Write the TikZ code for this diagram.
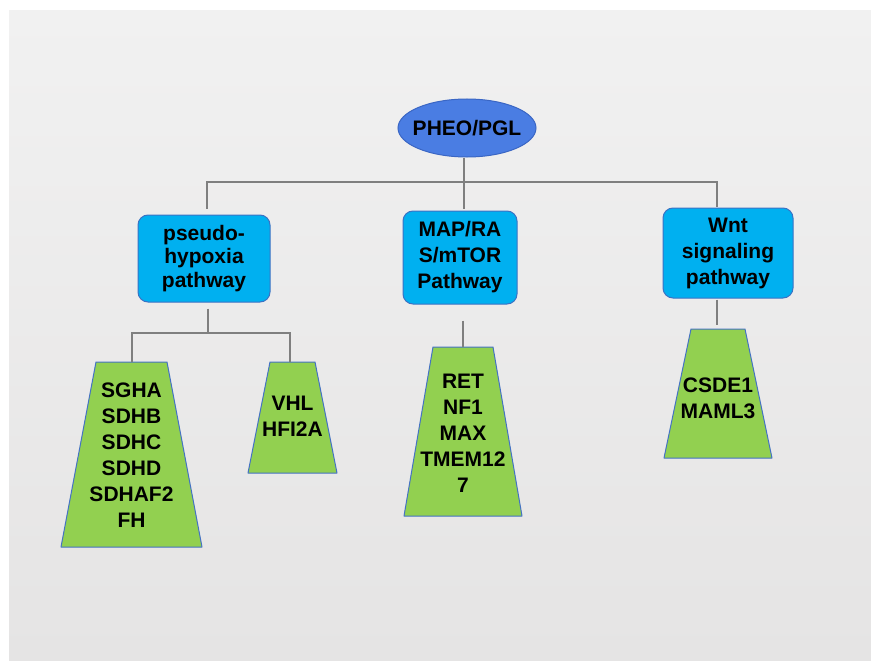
\documentclass[tikz,border=0pt]{standalone}
\usepackage{fontspec}
\setmainfont{Liberation Sans}
\usepackage{tikz}
\usetikzlibrary{calc,shapes,positioning}

\definecolor{panelTop}{HTML}{F1F1F1}
\definecolor{panelBot}{HTML}{E5E4E4}
\definecolor{rootFill}{HTML}{4A7DE3}
\definecolor{rootLine}{HTML}{3A66C4}
\definecolor{pathFill}{HTML}{00B0F0}
\definecolor{pathLine}{HTML}{3B72C4}
\definecolor{geneFill}{HTML}{92D050}
\definecolor{geneLine}{HTML}{4472C4}
\definecolor{treeLine}{HTML}{7F7F7F}

\begin{document}
\begin{tikzpicture}[x=1pt,y=-1pt]
    \tikzstyle{rnode} = [draw=rootLine, fill=rootFill, ellipse, line width=1pt, inner sep=0pt,
                         minimum width=138pt, minimum height=58pt, font=\fontsize{21}{26}\selectfont\bfseries]
    \tikzstyle{pnode} = [draw=pathLine, fill=pathFill, rectangle, rounded corners=10pt, line width=1pt,
                         inner sep=0pt, align=center, font=\fontsize{21}{26}\selectfont\bfseries]
    \tikzstyle{trap}  = [draw=geneLine, fill=geneFill, line width=1pt, line join=round]
    \tikzstyle{gnode} = [inner sep=0pt, align=center, font=\fontsize{21}{26}\selectfont\bfseries]
    \tikzstyle{conn}  = [draw=treeLine, line width=1.1pt]

    \useasboundingbox (0,0) rectangle (871,661);
    \fill[white] (0,0) rectangle (871,661);
    \shade[top color=panelTop, bottom color=panelBot] (9,11) rectangle (871,661);

    \node[rnode] (root) at (467,128) {\makebox[0pt]{PHEO/PGL}};

    \node[pnode, minimum width=132pt, minimum height=87pt,
          font=\fontsize{21}{23.5}\selectfont\bfseries] (hypox) at (204,258.5) {pseudo-\\hypoxia\\pathway};
    \node[pnode, minimum width=114pt, minimum height=93pt] (mapk) at (460,257.5) {MAP/RA\\S/mTOR\\Pathway};
    \node[pnode, minimum width=130pt, minimum height=90pt] (wnt) at (728,253) {Wnt\\signaling\\pathway};

    % gene clusters
    \draw[trap] (96,362) -- (167,362) -- (202,547) -- (61,547) -- cycle;
    \draw[trap] (270,362) -- (315,362) -- (337,473) -- (248,473) -- cycle;
    \draw[trap] (433,347) -- (493,347) -- (522,516) -- (404,516) -- cycle;
    \draw[trap] (691,329) -- (745,329) -- (772,458) -- (664,458) -- cycle;

    \coordinate (tSdh) at (132,362);
    \coordinate (tVhl) at (290,362);
    \coordinate (tRet) at (463,347);
    \coordinate (tCsd) at (717,329);

    \node[gnode] (sdh) at (131.5,455) {SGHA\\SDHB\\SDHC\\SDHD\\SDHAF2\\FH};
    \node[gnode] (vhl) at (292.5,416) {VHL\\HFI2A};
    \node[gnode] (ret) at (463,433.5) {RET\\NF1\\MAX\\TMEM12\\7};
    \node[gnode] (csd) at (718,398.5) {CSDE1\\MAML3};

    % tree
    \coordinate (hub) at (464,182);
    \coordinate (fork) at (208,333);
    \draw[conn] (hub |- root.south) -- (hub);
    \draw[conn] ([xshift=3pt,yshift=6pt]hypox.north) -- ([xshift=3pt]hypox.north |- hub)
                -- ([xshift=-11pt]wnt.north |- hub) -- ([xshift=-11pt,yshift=1pt]wnt.north);
    \draw[conn] (hub) -- ([yshift=2pt]hub |- mapk.north);

    \draw[conn] ([xshift=4pt,yshift=-6pt]hypox.south) -- (fork);
    \draw[conn] (tSdh) -- (tSdh |- fork) -- (tVhl |- fork) -- (tVhl);
    \draw[conn] ([yshift=-16pt]mapk.south -| tRet) -- (tRet);
    \draw[conn] ([yshift=-1pt]wnt.south -| tCsd) -- ([yshift=4pt]tCsd);
\end{tikzpicture}
\end{document}
